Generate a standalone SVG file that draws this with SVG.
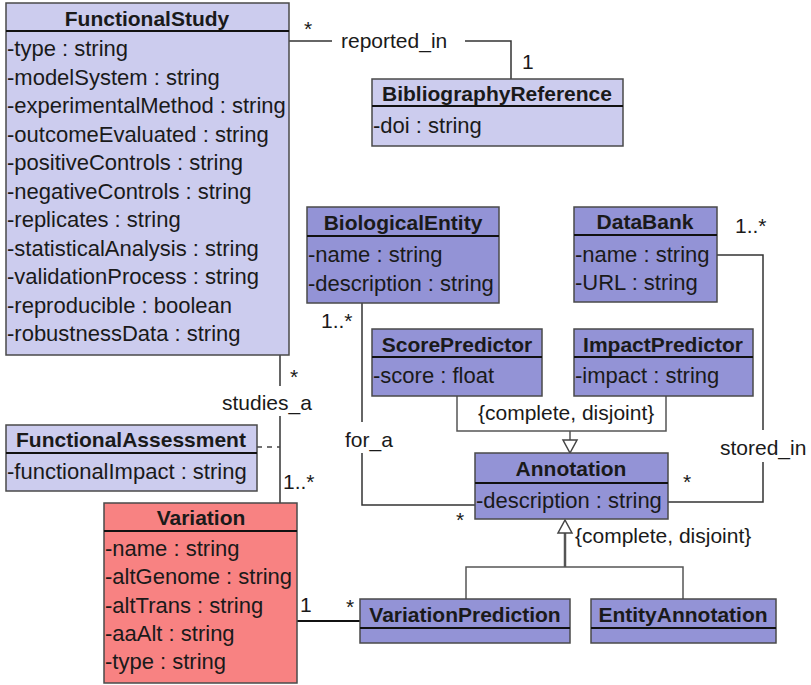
<svg xmlns="http://www.w3.org/2000/svg" width="811" height="685" viewBox="0 0 811 685">
  <style>
    .box { stroke: #4a4a4a; stroke-width: 1.5; }
    .light { fill: #ccccee; }
    .mid { fill: #9393d6; }
    .red { fill: #f88282; }
    .sep { stroke: #111; stroke-width: 2; }
    .title { font-family: "Liberation Sans", Arial, sans-serif; font-weight: bold; font-size: 21px; fill: #1a1a1a; text-anchor: middle; }
    .attr { font-family: "Liberation Sans", Arial, sans-serif; font-size: 22px; fill: #1a1a1a; }
    .lbl { font-family: "Liberation Sans", Arial, sans-serif; font-size: 21px; fill: #1a1a1a; }
    .conn { fill: none; stroke: #333; stroke-width: 1.5; }
    .thick { fill: none; stroke: #111; stroke-width: 2.2; }
    .gen { fill: none; stroke: #555; stroke-width: 1.5; }
    .genthick { fill: none; stroke: #555; stroke-width: 2.5; }
    .dash { fill: none; stroke: #444; stroke-width: 1.5; stroke-dasharray: 5 5; }
    .tri { fill: #fff; stroke: #444; stroke-width: 1.5; }
  </style>

  <!-- associations and generalizations -->
  <g id="connectors">
    <!-- reported_in -->
    <polyline class="conn" points="289,41 332,41"/>
    <polyline class="conn" points="465,41 511,41 511,79"/>
    <text class="lbl" x="341" y="48">reported_in</text>
    <text class="lbl" x="304" y="36">*</text>
    <text class="lbl" x="522" y="69">1</text>

    <!-- studies_a -->
    <polyline class="conn" points="280,355 280,386"/>
    <polyline class="conn" points="280,416 280,503"/>
    <text class="lbl" x="222" y="410">studies_a</text>
    <text class="lbl" x="290" y="384">*</text>
    <text class="lbl" x="283" y="489">1..*</text>
    <!-- association class link -->
    <line class="dash" x1="257" y1="447" x2="280" y2="447"/>

    <!-- for_a -->
    <polyline class="conn" points="362,303 362,422"/>
    <polyline class="conn" points="362,453 362,505 475,505"/>
    <text class="lbl" x="345" y="447">for_a</text>
    <text class="lbl" x="321" y="328">1..*</text>
    <text class="lbl" x="456" y="527">*</text>

    <!-- stored_in -->
    <polyline class="conn" points="717,255 763,255 763,430"/>
    <polyline class="conn" points="763,462 763,502 668,502"/>
    <text class="lbl" x="720" y="455">stored_in</text>
    <text class="lbl" x="735" y="233">1..*</text>
    <text class="lbl" x="683" y="489">*</text>

    <!-- Variation to VariationPrediction -->
    <line class="thick" x1="297" y1="621" x2="360" y2="621"/>
    <text class="lbl" x="300" y="612">1</text>
    <text class="lbl" x="346" y="614">*</text>

    <!-- predictors generalize Annotation -->
    <polyline class="gen" points="457,396 457,431 666,431 666,396"/>
    <line class="gen" x1="570" y1="431" x2="570" y2="440"/>
    <polygon class="tri" points="563,440 577,440 570,453"/>
    <text class="lbl" x="478" y="420">{complete, disjoint}</text>

    <!-- Annotation subclasses -->
    <polyline class="gen" points="466,599 466,567 683,567 683,599"/>
    <line class="genthick" x1="565" y1="533" x2="565" y2="567"/>
    <polygon class="tri" points="558,533 572,533 565,520"/>
    <text class="lbl" x="575" y="543">{complete, disjoint}</text>
  </g>

  <g id="FunctionalStudy">
    <rect class="box light" x="6" y="3" width="283" height="352"/>
    <line class="sep" x1="6" y1="31" x2="289" y2="31"/>
    <text class="title" x="147" y="26">FunctionalStudy</text>
    <text class="attr" x="7" y="56">-type : string</text>
    <text class="attr" x="7" y="84.5">-modelSystem : string</text>
    <text class="attr" x="7" y="113">-experimentalMethod : string</text>
    <text class="attr" x="7" y="141.5">-outcomeEvaluated : string</text>
    <text class="attr" x="7" y="170">-positiveControls : string</text>
    <text class="attr" x="7" y="198.5">-negativeControls : string</text>
    <text class="attr" x="7" y="227">-replicates : string</text>
    <text class="attr" x="7" y="255.5">-statisticalAnalysis : string</text>
    <text class="attr" x="7" y="284">-validationProcess : string</text>
    <text class="attr" x="7" y="312.5">-reproducible : boolean</text>
    <text class="attr" x="7" y="341">-robustnessData : string</text>
  </g>

  <g id="BibliographyReference">
    <rect class="box light" x="372" y="79" width="251" height="67"/>
    <line class="sep" x1="372" y1="106" x2="623" y2="106"/>
    <text class="title" x="497" y="101">BibliographyReference</text>
    <text class="attr" x="373" y="133">-doi : string</text>
  </g>

  <g id="BiologicalEntity">
    <rect class="box mid" x="307" y="207" width="192" height="96"/>
    <line class="sep" x1="307" y1="236" x2="499" y2="236"/>
    <text class="title" x="403" y="230">BiologicalEntity</text>
    <text class="attr" x="308" y="262">-name : string</text>
    <text class="attr" x="308" y="291">-description : string</text>
  </g>

  <g id="DataBank">
    <rect class="box mid" x="574" y="207" width="143" height="95"/>
    <line class="sep" x1="574" y1="235" x2="717" y2="235"/>
    <text class="title" x="645" y="229">DataBank</text>
    <text class="attr" x="575" y="262">-name : string</text>
    <text class="attr" x="575" y="290">-URL : string</text>
  </g>

  <g id="ScorePredictor">
    <rect class="box mid" x="372" y="329" width="170" height="67"/>
    <line class="sep" x1="372" y1="357" x2="542" y2="357"/>
    <text class="title" x="457" y="352">ScorePredictor</text>
    <text class="attr" x="373" y="383">-score : float</text>
  </g>

  <g id="ImpactPredictor">
    <rect class="box mid" x="574" y="329" width="179" height="67"/>
    <line class="sep" x1="574" y1="357" x2="753" y2="357"/>
    <text class="title" x="663" y="352">ImpactPredictor</text>
    <text class="attr" x="575" y="383">-impact : string</text>
  </g>

  <g id="Annotation">
    <rect class="box mid" x="475" y="453" width="193" height="66"/>
    <line class="sep" x1="475" y1="483" x2="668" y2="483"/>
    <text class="title" x="571" y="476">Annotation</text>
    <text class="attr" x="476" y="508">-description : string</text>
  </g>

  <g id="FunctionalAssessment">
    <rect class="box light" x="6" y="425" width="251" height="66"/>
    <line class="sep" x1="6" y1="453" x2="257" y2="453"/>
    <text class="title" x="131" y="447">FunctionalAssessment</text>
    <text class="attr" x="7" y="479">-functionalImpact : string</text>
  </g>

  <g id="Variation">
    <rect class="box red" x="104" y="503" width="193" height="180"/>
    <line class="sep" x1="104" y1="531" x2="297" y2="531"/>
    <text class="title" x="201" y="525">Variation</text>
    <text class="attr" x="105" y="556">-name : string</text>
    <text class="attr" x="105" y="584">-altGenome : string</text>
    <text class="attr" x="105" y="612.5">-altTrans : string</text>
    <text class="attr" x="105" y="641">-aaAlt : string</text>
    <text class="attr" x="105" y="669">-type : string</text>
  </g>

  <g id="VariationPrediction">
    <rect class="box mid" x="360" y="599" width="210" height="44"/>
    <line class="sep" x1="360" y1="628" x2="570" y2="628"/>
    <text class="title" x="465" y="622">VariationPrediction</text>
  </g>

  <g id="EntityAnnotation">
    <rect class="box mid" x="591" y="599" width="185" height="44"/>
    <line class="sep" x1="591" y1="628" x2="776" y2="628"/>
    <text class="title" x="683" y="622">EntityAnnotation</text>
  </g>
</svg>
